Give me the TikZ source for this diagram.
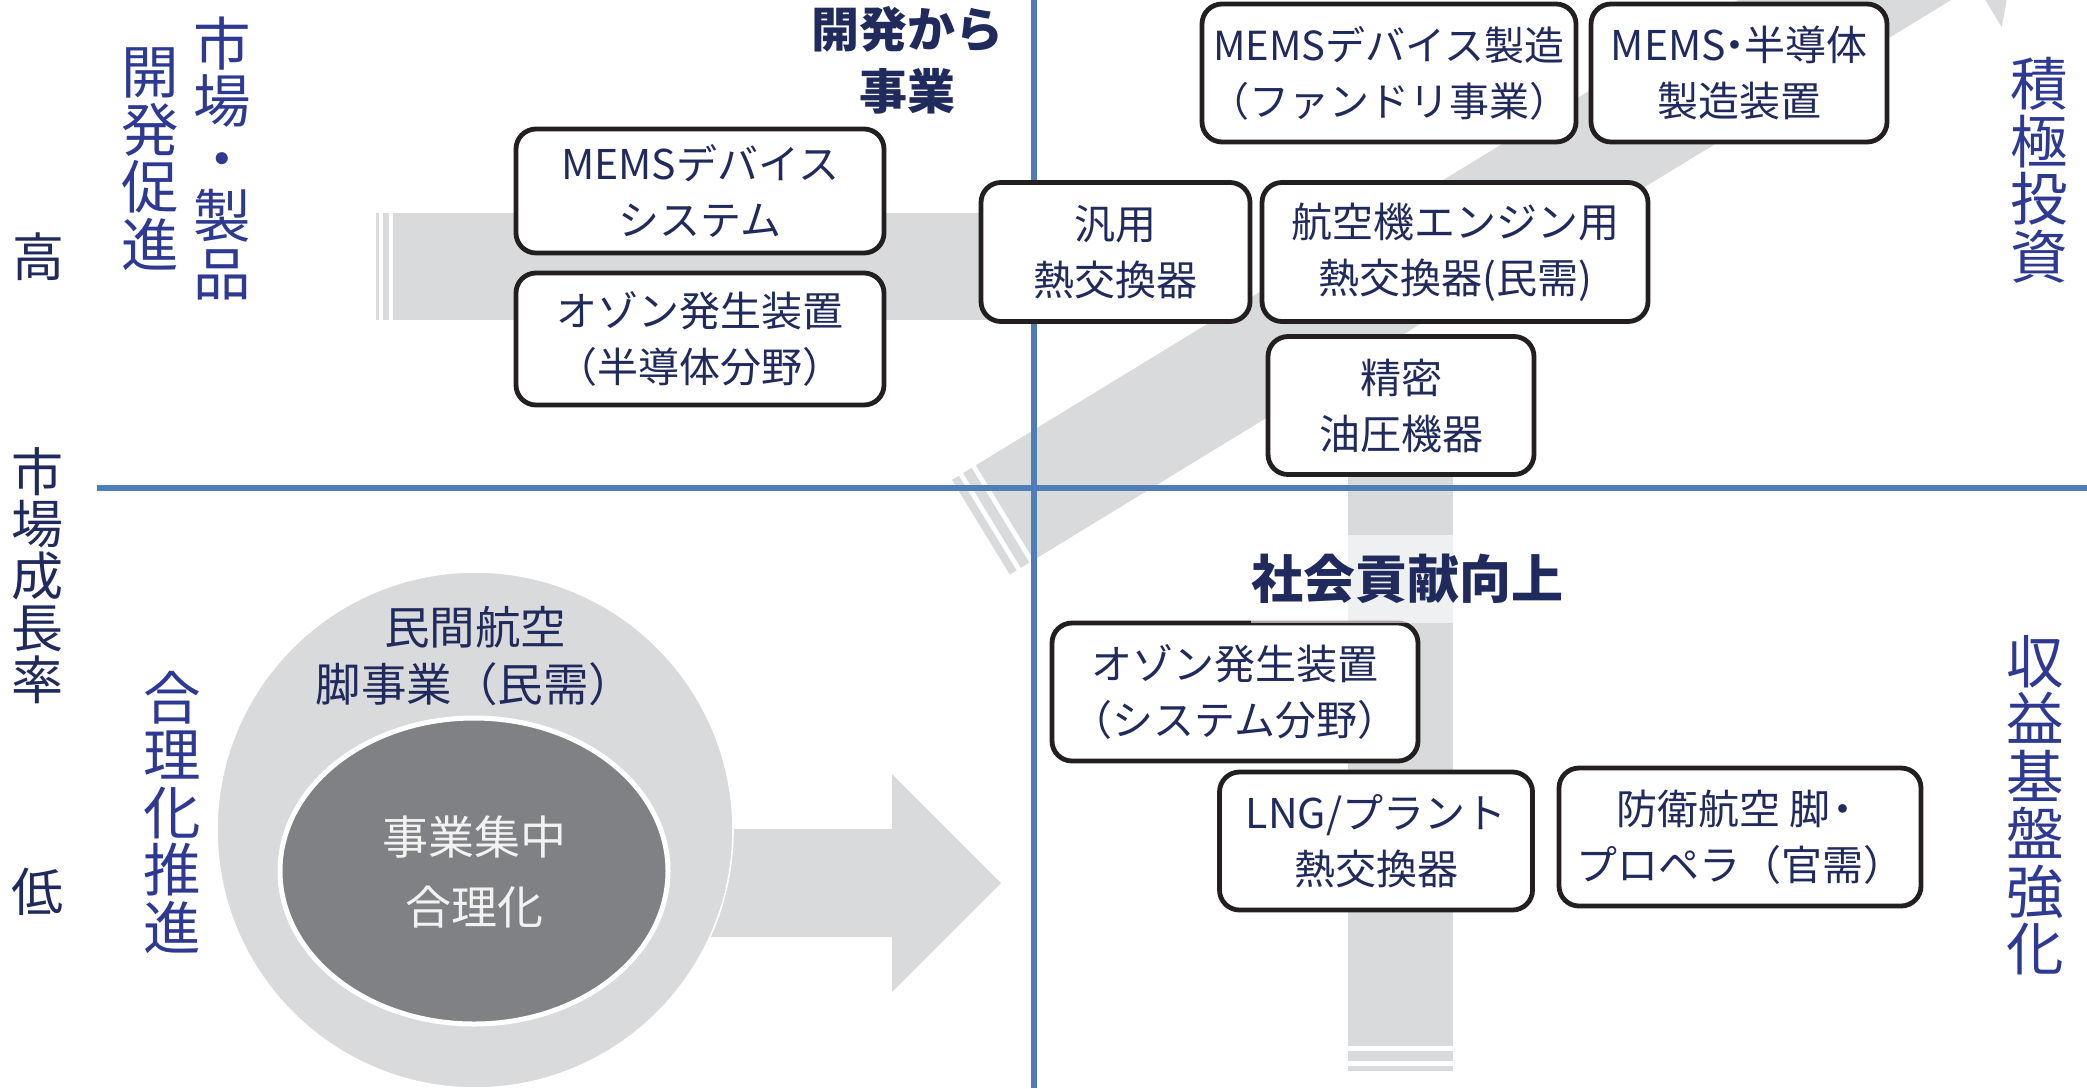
\documentclass[tikz,border=0pt]{standalone}
\usepackage{fontspec}
\newfontfamily\cjk{Noto Sans CJK JP}
\definecolor{navy}{RGB}{32,42,92}
\definecolor{sideblue}{RGB}{46,57,145}
\definecolor{bandgray}{RGB}{217,218,220}
\definecolor{innergray}{RGB}{128,129,133}
\definecolor{axisblue}{RGB}{79,125,181}
\definecolor{boxline}{RGB}{35,31,32}
\definecolor{offwhite}{RGB}{242,242,242}
\newcommand\tightlines{\setlength{\lineskiplimit}{-100pt}}
\begin{document}
\begin{tikzpicture}[x=0.5pt,y=-0.5pt,
  box/.style={draw=boxline, line width=2.4pt, rounded corners=10pt, fill=white,
    align=center, text=navy, inner sep=0pt,
    font=\cjk\fontsize{20.5}{28}\selectfont},
  headlbl/.style={align=center, text=navy, inner sep=0pt},
  vlbl/.style={align=center, inner sep=0pt, text=sideblue,
    font=\cjk\fontsize{28.75}{28.75}\selectfont\tightlines},
  vlblsmall/.style={align=center, inner sep=0pt, text=navy,
    font=\cjk\fontsize{26}{26}\selectfont\tightlines},
  axisline/.style={draw=axisblue, line width=2.6pt},
  band/.style={fill=bandgray}
]
\clip (0,0) rectangle (2087,1088);
\fill[white] (0,0) rectangle (2087,1088);

% horizontal band (upper left)
\fill[band] (393,213) rectangle (1100,320);
\fill[band] (383,213) rectangle (389,320);
\fill[band] (376,213) rectangle (379,320);

% vertical band (lower right)
\fill[band] (1348,400) rectangle (1453,1046);
\fill[band] (1348,1051) rectangle (1453,1061);
\fill[band] (1348,1066) rectangle (1453,1071);

% diagonal arrow
\begin{scope}[shift={(1050,485)}, rotate=31.4]
  \fill[band] (-53,-55.5) -- (1051,-55.5) -- (1051,-105) -- (1145,0) -- (1051,105) -- (1051,55.5) -- (-53,55.5) -- cycle;
  \fill[band] (-58,-55.5) rectangle (-68,55.5);
  \fill[band] (-73,-55.5) rectangle (-81,55.5);
\end{scope}

% big right arrow
\fill[band] (700,829) -- (892,829) -- (892,774) -- (1001,883) -- (892,992) -- (892,937) -- (700,937) -- cycle;

% circles
\fill[bandgray, draw=white, line width=0.8pt] (475,830) circle [radius=258];
\filldraw[fill=innergray, draw=white, line width=2.5pt] (474,871) ellipse [x radius=194, y radius=153];

% axes
\coordinate (hl) at (97,488);
\coordinate (hr) at (2087,488);
\coordinate (vt) at (1034,0);
\coordinate (vb) at (1034,1088);
\draw[axisline] (hl) -- (hr);
\draw[axisline] (vt) -- (vb);

% boxes
\node[box, minimum width=184pt, minimum height=62pt] (b1) at (700,191) {MEMSデバイス\\システム};
\node[box, minimum width=184pt, minimum height=66pt] (b2) at (700,339) {オゾン発生装置\\（半導体分野）};
\node[box, minimum width=134.5pt, minimum height=69.5pt] (b3) at (1115.5,252) {汎用\\熱交換器};
\node[box, minimum width=193pt, minimum height=69.5pt] (b4) at (1455,252) {航空機エンジン用\\熱交換器(民需)};
\node[box, minimum width=133pt, minimum height=69pt] (b5) at (1401,405.5) {精密\\油圧機器};
\node[box, minimum width=187pt, minimum height=69pt, font=\cjk\fontsize{20}{28}\selectfont] (b6) at (1389,73) {MEMSデバイス製造\\（ファンドリ事業）};
\node[box, minimum width=148pt, minimum height=69pt] (b7) at (1739,73) {MEMS\kern-0.28em・\kern-0.28em半導体\\製造装置};
\node[box, minimum width=183pt, minimum height=69pt] (b8) at (1235,692) {オゾン発生装置\\（システム分野）};
\node[box, minimum width=156.5pt, minimum height=69pt] (b9) at (1376,841) {LNG/プラント\\熱交換器};
\node[box, minimum width=181pt, minimum height=69pt] (b10) at (1740,837) {防衛航空 脚\kern-0.2em・\\プロペラ（官需）};

% headings
\node[headlbl, font=\cjk\bfseries\fontsize{24}{31}\selectfont] (h1) at (907,60) {開発から\\事業};
\node[headlbl, font=\cjk\bfseries\fontsize{26}{30}\selectfont, fill=white, fill opacity=0.6, text opacity=1, minimum height=44pt] (h2) at (1407,579) {社会貢献向上};

% circle texts
\node[headlbl, font=\cjk\fontsize{22.75}{28.5}\selectfont] (c1) at (475,656) {民間航空\\脚事業（民需）};
\node[headlbl, text=offwhite, font=\cjk\fontsize{23}{35}\selectfont] (c2) at (474,872) {事業集中\\合理化};

% side labels
\node[vlbl] (v1) at (222,158) {市\\場\\・\\製\\品};
\node[vlbl] (v2) at (150,159) {開\\発\\促\\進};
\node[vlblsmall] (v3) at (38,257) {高};
\node[vlblsmall] (v4) at (37,576) {市\\場\\成\\長\\率};
\node[vlblsmall] (v5) at (37,892) {低};
\node[vlbl] (v6) at (172,812) {合\\理\\化\\推\\進};
\node[vlbl] (v7) at (2039,170) {積\\極\\投\\資};
\node[vlbl] (v8) at (2035,805) {収\\益\\基\\盤\\強\\化};
\end{tikzpicture}
\end{document}
